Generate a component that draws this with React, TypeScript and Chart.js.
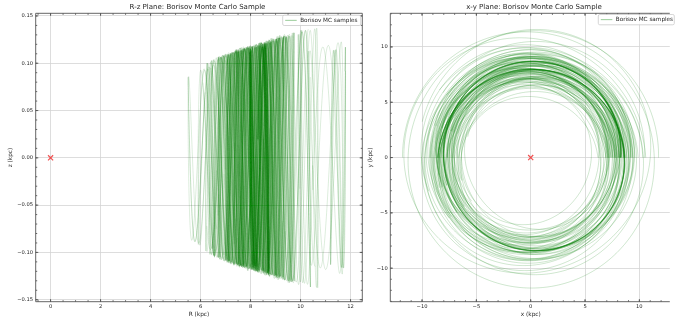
import React, { useEffect, useRef } from "react";
import { Chart, registerables } from "chart.js";
Chart.register(...registerables);

// ---------- text ----------
const rzTitle = "R-z Plane: Borisov Monte Carlo Sample";
const xyTitle = "x-y Plane: Borisov Monte Carlo Sample";
const rzXLabel = "R (kpc)";
const rzYLabel = "z (kpc)";
const xyXLabel = "x (kpc)";
const xyYLabel = "y (kpc)";
const legendLabel = "Borisov MC samples";

// ---------- ticks ----------
const rTicks = [0, 2, 4, 6, 8, 10, 12];
const rTickLabels = ["0", "2", "4", "6", "8", "10", "12"];
const zTicks = [-0.15, -0.1, -0.05, 0, 0.05, 0.1, 0.15];
const zTickLabels = ["\u22120.15", "\u22120.10", "\u22120.05", "0.00", "0.05", "0.10", "0.15"];
const xyTicks = [-10, -5, 0, 5, 10];
const xyTickLabels = ["\u221210", "\u22125", "0", "5", "10"];

// ---------- reference point (red cross) ----------
const refR = [0];
const refZ = [0];
const refX = [0];
const refY = [0];

// ---------- orbit samples (epicycle parameters) ----------
const KAPPA_OVER_OMEGA = 1.4;
const NU_OVER_OMEGA = 4.0;
const orbitRg = [
  8.35, 8.33, 8.37, 8.36, 8.34, 8.38, 8.32, 8.35,
  7.0, 7.1, 7.2, 7.3, 7.4, 7.5, 7.6, 7.7, 7.8, 7.9, 8.0,
  8.1, 8.2, 8.3, 8.4, 8.5, 8.6, 8.7, 8.8, 8.9, 9.0, 9.1,
  7.15, 7.35, 7.55, 7.75, 7.95, 8.15, 8.35, 8.55, 8.75, 8.95, 9.15, 7.45,
  6.8, 6.9, 7.0, 9.2, 9.3, 9.4, 8.0, 8.4, 7.6, 8.8, 9.5, 6.7,
  6.0, 6.5, 9.9, 10.3, 11.0, 11.5,
];
const orbitAmpR = [
  0.38, 0.36, 0.39, 0.37, 0.38, 0.36, 0.4, 0.38,
  0.56, 0.4, 0.44, 0.6, 0.32, 0.4, 0.56, 0.36, 0.44, 0.4, 0.36,
  0.44, 0.6, 0.36, 0.64, 0.4, 0.56, 0.32, 0.6, 0.4, 0.32, 0.56,
  0.64, 0.36, 0.44, 0.32, 0.44, 0.64, 0.25, 0.6, 0.4, 0.4, 0.56, 0.4,
  0.55, 0.55, 0.45, 0.4, 0.45, 0.35, 0.85, 0.8, 0.9, 0.75, 0.55, 0.5,
  0.5, 0.6, 0.5, 0.4, 0.7, 0.3,
];
const orbitPhaseR = [
  -1.75, -1.7, -1.8, -1.72, -1.78, -1.74, -1.76, -1.73,
  0.3, 2.1, -0.8, 1.4, -2.4, 0.9, -1.2, 2.8, -0.4, 1.7, -2.9,
  2.4, -1.6, 0.6, -2.2, 3.0, -0.1, 1.1, -2.6, 0.4, -1.0, 2.3,
  -0.6, 1.9, -2.0, 2.6, -1.4, 0.7, -0.2, 1.3, -1.9, 0.0, 2.9, -2.8,
  1.0, -1.5, 2.7, 0.2, -2.3, 1.6, -0.9, 2.0, 0.5, -2.7, 0.8, -0.3,
  1.2, -2.0, 0.6, -1.1, 2.2, -0.5,
];
const orbitAmpZ = [
  0.116, 0.118, 0.114, 0.119, 0.115, 0.117, 0.12, 0.116,
  0.109, 0.11, 0.112, 0.113, 0.112, 0.114, 0.113, 0.115, 0.116, 0.116, 0.118,
  0.117, 0.119, 0.118, 0.121, 0.12, 0.122, 0.121, 0.124, 0.123, 0.125, 0.126,
  0.11, 0.112, 0.114, 0.115, 0.117, 0.119, 0.118, 0.122, 0.123, 0.125, 0.127, 0.113,
  0.106, 0.108, 0.11, 0.126, 0.128, 0.127, 0.118, 0.122, 0.114, 0.125, 0.13, 0.104,
  0.091, 0.098, 0.132, 0.134, 0.118, 0.115,
];
const orbitPhaseZ = [
  0.17, 0.17, 0.16, 0.17, 0.18, 0.17, 0.16, 0.17,
  1.2, 2.5, 0.6, 3.4, 4.1, 5.0, 0.2, 1.9, 2.8, 3.9, 5.5,
  0.9, 2.2, 3.1, 4.4, 5.8, 0.5, 1.6, 2.6, 3.7, 4.8, 6.0,
  1.0, 2.0, 3.0, 4.0, 5.1, 0.3, 1.4, 2.4, 3.5, 4.6, 5.6, 0.8,
  1.8, 3.3, 4.9, 0.4, 2.1, 3.8, 5.3, 1.1, 2.7, 4.3, 5.9, 0.7,
  2.3, 4.0, 1.5, 3.2, 4.7, 0.9,
];
const orbitTurns = [
  1.5, 1.48, 1.52, 1.5, 1.49, 1.51, 1.47, 1.53,
  1.45, 1.55, 1.4, 1.6, 1.5, 1.45, 1.55, 1.4, 1.5, 1.6, 1.45,
  1.5, 1.55, 1.4, 1.5, 1.6, 1.45, 1.55, 1.5, 1.4, 1.6, 1.5,
  1.45, 1.55, 1.5, 1.4, 1.6, 1.45, 1.5, 1.55, 1.4, 1.5, 1.45, 1.6,
  1.5, 1.45, 1.55, 1.4, 1.5, 1.45, 1.55, 1.5, 1.45, 1.6, 1.4, 1.5,
  1.45, 1.5, 1.55, 1.4, 1.45, 1.5,
];

// ---------- styling ----------
const FONT = '"DejaVu Sans", sans-serif';
const RZ_LINE_COLOR = "rgba(0,128,0,0.16)";
const XY_LINE_COLOR = "rgba(0,128,0,0.2)";
const LEGEND_LINE = "rgba(0,128,0,0.4)";
const MARKER_COLOR = "rgba(240,50,50,0.85)";
const GRID_COLOR = "#d4d4d4";
const SPINE_COLOR = "#555555";
const TEXT_COLOR = "#262626";

type Pt = { x: number; y: number };

function buildOrbits() {
  const rz: Pt[][] = [];
  const xy: Pt[][] = [];
  for (let i = 0; i < orbitRg.length; i++) {
    const thEnd = orbitTurns[i] * 2 * Math.PI;
    const n = Math.ceil(thEnd / 0.01);
    const a: Pt[] = [];
    const b: Pt[] = [];
    for (let j = 0; j <= n; j++) {
      const th = (thEnd * j) / n;
      const R = orbitRg[i] + orbitAmpR[i] * Math.cos(KAPPA_OVER_OMEGA * th + orbitPhaseR[i]);
      const z = orbitAmpZ[i] * Math.pow(R / orbitRg[i], 0.7) * Math.sin(NU_OVER_OMEGA * th + orbitPhaseZ[i]);
      a.push({ x: R, y: z });
      b.push({ x: R * Math.cos(th), y: R * Math.sin(th) });
    }
    rz.push(a);
    xy.push(b);
  }
  return { rz, xy };
}

function range(a: number, b: number, step: number) {
  const out: number[] = [];
  const n = Math.round((b - a) / step);
  for (let i = 0; i <= n; i++) out.push(a + i * step);
  return out;
}

const decorPlugin = {
  id: "decor",
  afterDraw(chart: any, _args: any, o: any) {
    const ctx = chart.ctx as CanvasRenderingContext2D;
    const { left, right, top, bottom } = chart.chartArea;
    const xs = chart.scales.x;
    const ys = chart.scales.y;
    ctx.save();
    ctx.strokeStyle = SPINE_COLOR;
    ctx.lineWidth = 0.9;
    ctx.beginPath();
    ctx.moveTo(left, top);
    ctx.lineTo(left, bottom);
    ctx.lineTo(right, bottom);
    if (o.rightSpine) ctx.lineTo(right, top);
    ctx.moveTo(left, top);
    ctx.lineTo(right, top);
    ctx.stroke();
    const tick = (vals: number[], len: number) => {
      ctx.beginPath();
      for (const v of vals) {
        const px = xs.getPixelForValue(v);
        if (px < left - 0.5 || px > right + 0.5) continue;
        ctx.moveTo(px, bottom);
        ctx.lineTo(px, bottom - len);
        ctx.moveTo(px, top);
        ctx.lineTo(px, top + len);
      }
      ctx.stroke();
    };
    const tickY = (vals: number[], len: number) => {
      ctx.beginPath();
      for (const v of vals) {
        const py = ys.getPixelForValue(v);
        if (py < top - 0.5 || py > bottom + 0.5) continue;
        ctx.moveTo(left, py);
        ctx.lineTo(left + len, py);
        if (o.rightSpine) {
          ctx.moveTo(right, py);
          ctx.lineTo(right - len, py);
        }
      }
      ctx.stroke();
    };
    tick(o.majorX, 2.6);
    tick(o.minorX, 1.5);
    tickY(o.majorY, 2.6);
    tickY(o.minorY, 1.5);

    ctx.fillStyle = TEXT_COLOR;
    ctx.font = `7px ${FONT}`;
    ctx.textAlign = "center";
    ctx.textBaseline = "middle";
    ctx.fillText(o.title, o.titleX, 6.8);
    ctx.font = `5.8px ${FONT}`;
    ctx.fillText(o.xLabel, (left + right) / 2 + o.xLabelShift, 314.3);
    ctx.save();
    ctx.translate(o.yLabelX, (top + bottom) / 2);
    ctx.rotate(-Math.PI / 2);
    ctx.fillText(o.yLabel, 0, 0);
    ctx.restore();

    const L = o.legend;
    ctx.fillStyle = "rgba(255,255,255,0.85)";
    ctx.strokeStyle = "#cccccc";
    ctx.lineWidth = 0.8;
    ctx.beginPath();
    (ctx as any).roundRect(L.x, L.y, L.w, L.h, 1.5);
    ctx.fill();
    ctx.stroke();
    ctx.strokeStyle = LEGEND_LINE;
    ctx.lineWidth = 1;
    ctx.beginPath();
    ctx.moveTo(L.x + 2.5, L.y + L.h / 2);
    ctx.lineTo(L.x + 14, L.y + L.h / 2);
    ctx.stroke();
    ctx.fillStyle = TEXT_COLOR;
    ctx.font = `5.7px ${FONT}`;
    ctx.textAlign = "left";
    ctx.textBaseline = "middle";
    ctx.fillText(legendLabel, L.x + 17.5, L.y + L.h / 2 + 0.3);
    ctx.restore();
  },
};

function axisCfg(
  min: number,
  max: number,
  ticks: number[],
  labels: string[],
  isX: boolean,
  size: number
) {
  return {
    type: "linear",
    min,
    max,
    afterBuildTicks: (s: any) => {
      s.ticks = ticks.map((v) => ({ value: v }));
    },
    afterFit: (s: any) => {
      if (isX) s.height = size;
      else s.width = size;
    },
    grid: { color: GRID_COLOR, lineWidth: 0.8, drawTicks: false },
    border: { display: false },
    ticks: {
      autoSkip: false,
      maxRotation: 0,
      minRotation: 0,
      padding: isX ? 2.2 : 2.6,
      color: TEXT_COLOR,
      font: { family: FONT, size: 5.2 },
      callback: (_v: any, i: number) => labels[i],
    },
  };
}

function makeDatasets(orbits: Pt[][], mx: number[], my: number[], color: string, width: number) {
  const ds: any[] = [
    {
      data: mx.map((x, i) => ({ x, y: my[i] })),
      showLine: false,
      pointStyle: "crossRot",
      pointRadius: 3.6,
      pointBorderWidth: 1.2,
      pointBorderColor: MARKER_COLOR,
      pointBackgroundColor: MARKER_COLOR,
    },
  ];
  for (const o of orbits) {
    ds.push({
      data: o,
      showLine: true,
      pointRadius: 0,
      borderColor: color,
      borderWidth: width,
      tension: 0.000001,
    });
  }
  return ds;
}

export default function App() {
  const leftRef = useRef<HTMLCanvasElement>(null);
  const rightRef = useRef<HTMLCanvasElement>(null);

  useEffect(() => {
    const { rz, xy } = buildOrbits();
    const left = new Chart(leftRef.current as HTMLCanvasElement, {
      type: "scatter",
      data: { datasets: makeDatasets(rz, refR, refZ, RZ_LINE_COLOR, 0.9) },
      plugins: [decorPlugin as any],
      options: {
        responsive: false,
        animation: false,
        events: [],
        layout: { padding: { left: 0, top: 13.3, right: 675 - 362.3, bottom: 0 } },
        plugins: {
          legend: { display: false },
          tooltip: { enabled: false },
          title: { display: false },
          decor: {
            title: rzTitle,
            titleX: 197.5,
            xLabel: rzXLabel,
            xLabelShift: 0,
            yLabel: rzYLabel,
            yLabelX: 10,
            rightSpine: true,
            majorX: rTicks,
            minorX: range(-0.5, 12.5, 0.5),
            majorY: zTicks,
            minorY: range(-0.15, 0.15, 0.01),
            legend: { x: 282.7, y: 15.2, w: 78, h: 10.3 },
          },
        } as any,
        scales: {
          x: axisCfg(-0.595, 12.47, rTicks, rTickLabels, true, 18.3) as any,
          y: axisCfg(-0.1521, 0.1528, zTicks, zTickLabels, false, 35.7) as any,
        },
      },
    });
    const right = new Chart(rightRef.current as HTMLCanvasElement, {
      type: "scatter",
      data: { datasets: makeDatasets(xy, refX, refY, XY_LINE_COLOR, 1.0) },
      plugins: [decorPlugin as any],
      options: {
        responsive: false,
        animation: false,
        events: [],
        layout: { padding: { left: 370, top: 13.3, right: 0, bottom: 0 } },
        plugins: {
          legend: { display: false },
          tooltip: { enabled: false },
          title: { display: false },
          decor: {
            title: xyTitle,
            titleX: 534,
            xLabel: xyXLabel,
            xLabelShift: 0.7,
            yLabel: xyYLabel,
            yLabelX: 370.7,
            rightSpine: false,
            majorX: xyTicks,
            minorX: range(-13, 13, 1),
            majorY: xyTicks,
            minorY: range(-13, 13, 1),
            legend: { x: 598.3, y: 14.5, w: 76, h: 10.3 },
          },
        } as any,
        scales: {
          x: axisCfg(-12.92, 12.8, xyTicks, xyTickLabels, true, 18.3) as any,
          y: axisCfg(-13.03, 13.04, xyTicks, xyTickLabels, false, 20.3) as any,
        },
      },
    });
    return () => {
      left.destroy();
      right.destroy();
    };
  }, []);

  const cs: React.CSSProperties = { position: "absolute", left: 0, top: 0, width: 675, height: 320 };
  return (
    <div style={{ position: "fixed", left: 0, top: 0, width: 675, height: 320, background: "#fff", overflow: "hidden" }}>
      <canvas ref={leftRef} width={675} height={320} style={cs} />
      <canvas ref={rightRef} width={675} height={320} style={cs} />
    </div>
  );
}
